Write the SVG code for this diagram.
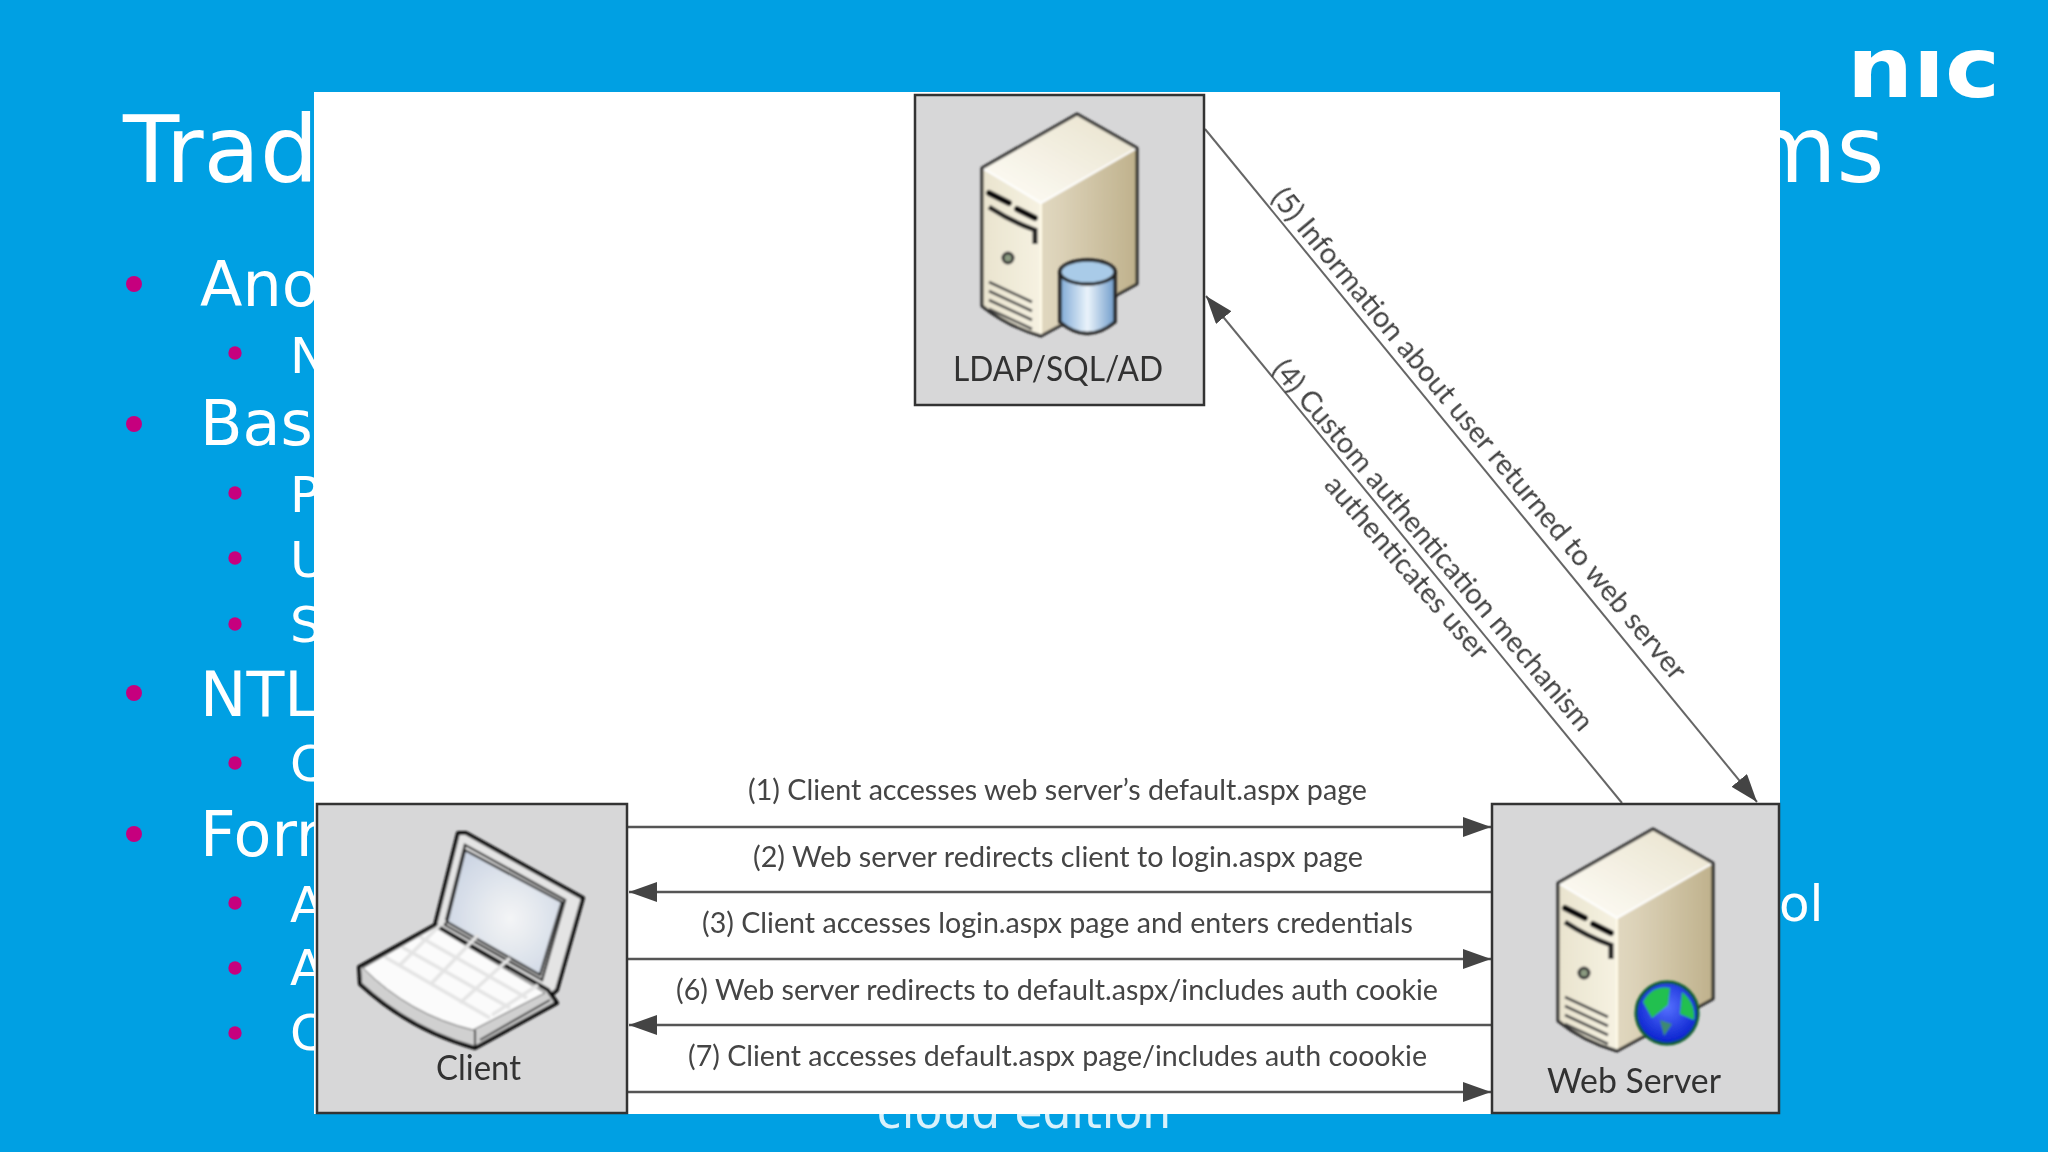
<svg xmlns="http://www.w3.org/2000/svg" xmlns:xlink="http://www.w3.org/1999/xlink" width="2048" height="1152" viewBox="0 0 2048 1152">
<style>
.bg{font-family:"DejaVu Sans",sans-serif;fill:#fff}
.t{font-size:92px}.l1{font-size:62px}.l2{font-size:50px}
.dot{fill:#C6007E}
.box{fill:#D7D7D8;stroke:#333;stroke-width:2.5}
.lb{font-family:Lato,"Liberation Sans",sans-serif;font-size:29px;fill:#444;filter:url(#soft)}
.nm{font-family:Lato,"Liberation Sans",sans-serif;font-size:35px;fill:#333;filter:url(#soft)}
.c{fill:none;stroke:#555;stroke-width:2.4}
.d{fill:none;stroke:#666;stroke-width:2}
.key{stroke:#e4e4e4;stroke-width:3.500;fill:none}
</style>
<defs>
<filter id="soft" x="-5%" y="-20%" width="110%" height="140%"><feGaussianBlur stdDeviation="0.5"/></filter>
<filter id="soft2" x="-10%" y="-10%" width="120%" height="120%"><feGaussianBlur stdDeviation="0.9"/></filter>
<linearGradient id="side" x1="0" y1="0" x2="1" y2="0"><stop offset="0" stop-color="#EFE9D8"/><stop offset="0.5" stop-color="#DCD2B8"/><stop offset="1" stop-color="#BFB18C"/></linearGradient>
<linearGradient id="front" x1="0" y1="0" x2="1" y2="0"><stop offset="0" stop-color="#E9E3CE"/><stop offset="1" stop-color="#F6F2E2"/></linearGradient>
<linearGradient id="topf" x1="0" y1="1" x2="1" y2="0"><stop offset="0" stop-color="#FFFEF8"/><stop offset="1" stop-color="#E8E1CC"/></linearGradient>
<linearGradient id="cyl" x1="0" y1="0" x2="1" y2="0"><stop offset="0" stop-color="#7FAAD6"/><stop offset="0.5" stop-color="#EAF3FB"/><stop offset="1" stop-color="#6F9CCB"/></linearGradient>
<radialGradient id="scr" cx="0.55" cy="0.55" r="0.6"><stop offset="0" stop-color="#F4F5F6"/><stop offset="1" stop-color="#CDD6E4"/></radialGradient>
<radialGradient id="earth" cx="0.5" cy="0.4" r="0.65"><stop offset="0" stop-color="#5570FF"/><stop offset="1" stop-color="#0018C8"/></radialGradient>
<clipPath id="nicclip"><rect x="1845" y="50" width="160" height="50"/></clipPath>
<marker id="a" markerUnits="userSpaceOnUse" markerWidth="30" markerHeight="22" refX="28" refY="10" orient="auto-start-reverse"><path d="M0 0L28 10L0 20Z" fill="#444"/></marker>
<g id="server">
<path d="M-95 54L0 0L60 34L60 170L-36 222Z" fill="url(#side)"/>
<path d="M-95 54V192Q-70 212 -36 222V89Z" fill="url(#front)"/>
<path d="M-95 54L0 0L60 34L-36 89Z" fill="url(#topf)"/>
<path d="M-36 89V222" stroke="#FFFBE8" stroke-width="2" fill="none"/>
<path d="M-95 54L-36 89L60 34" stroke="#fff" stroke-width="2" fill="none"/>
<path d="M-95 54L0 0L60 34V170L-36 222Q-70 212 -95 192Z" fill="none" stroke="#222" stroke-width="3" stroke-linejoin="round"/>
<path d="M-88 79L-68 89M-60 95L-42 104" stroke="#111" stroke-width="6" fill="none" stroke-linecap="round"/>
<path d="M-88 93Q-65 108 -42 116V130" stroke="#222" stroke-width="5" fill="none"/>
<circle cx="-69" cy="144" r="5" fill="#8A9A80" stroke="#333" stroke-width="3"/>
<path d="M-88 168L-45 188M-88 177L-45 197M-88 186L-45 206M-88 195L-45 215" stroke="#444" stroke-width="2.5" fill="none"/>
</g>
</defs>

<g id="background">
<rect width="2048" height="1152" fill="#00A0E3"/>
<text class="bg t" x="123" y="182">Trad</text>
<text class="bg t" x="1747" y="182">ms</text>
<text class="bg l1" x="200" y="306">Ano</text>
<text class="bg l2" x="290" y="373">N</text>
<text class="bg l1" x="200" y="445">Bas</text>
<text class="bg l2" x="290" y="512">P</text>
<text class="bg l2" x="290" y="577">U</text>
<text class="bg l2" x="290" y="642">S</text>
<text class="bg l1" x="200" y="716">NTL</text>
<text class="bg l2" x="290" y="781">C</text>
<text class="bg l1" x="200" y="856">Form</text>
<text class="bg l2" x="290" y="922">A</text>
<text class="bg l2" x="290" y="985">A</text>
<text class="bg l2" x="290" y="1050">C</text>
<text class="bg l2" x="1779" y="921">ol</text>
<text class="bg" x="1024" y="1128" font-size="45.500" text-anchor="middle" fill-opacity="0.85" filter="url(#soft)">cloud edition</text>
<circle class="dot" cx="134" cy="284" r="8"/><circle class="dot" cx="134" cy="424" r="8"/><circle class="dot" cx="134" cy="693" r="8"/><circle class="dot" cx="134" cy="834" r="8"/>
<circle class="dot" cx="235" cy="353" r="6.7"/><circle class="dot" cx="235" cy="493" r="6.7"/><circle class="dot" cx="235" cy="558" r="6.7"/><circle class="dot" cx="235" cy="624" r="6.7"/><circle class="dot" cx="235" cy="763" r="6.7"/><circle class="dot" cx="235" cy="903" r="6.7"/><circle class="dot" cx="235" cy="968" r="6.7"/><circle class="dot" cx="235" cy="1033" r="6.7"/>
<g id="logo" filter="url(#soft)">
<g clip-path="url(#nicclip)"><text x="1847" y="97" font-family="DejaVu Sans,sans-serif" font-weight="bold" font-size="84" fill="#fff" textLength="153" lengthAdjust="spacingAndGlyphs">nic</text></g>
</g>
<rect x="314" y="92" width="1466" height="1022" fill="#fff"/>
</g>

<g id="connectors">
<path class="c" marker-end="url(#a)" d="M627 827H1491"/>
<path class="c" marker-end="url(#a)" d="M1492 892H629"/>
<path class="c" marker-end="url(#a)" d="M627 959H1491"/>
<path class="c" marker-end="url(#a)" d="M1492 1025H629"/>
<path class="c" marker-end="url(#a)" d="M627 1092H1491"/>
<path class="d" marker-end="url(#a)" d="M1622 803L1206 296"/>
<path class="d" marker-end="url(#a)" d="M1205 129L1757 802"/>
<text class="lb" x="748" y="800" textLength="619" lengthAdjust="spacingAndGlyphs">(1) Client accesses web server’s default.aspx page</text>
<text class="lb" x="753" y="867" textLength="610" lengthAdjust="spacingAndGlyphs">(2) Web server redirects client to login.aspx page</text>
<text class="lb" x="702" y="933" textLength="711" lengthAdjust="spacingAndGlyphs">(3) Client accesses login.aspx page and enters credentials</text>
<text class="lb" x="676" y="1000" textLength="762" lengthAdjust="spacingAndGlyphs">(6) Web server redirects to default.aspx/includes auth cookie</text>
<text class="lb" x="688" y="1066" textLength="739" lengthAdjust="spacingAndGlyphs">(7) Client accesses default.aspx page/includes auth coookie</text>
<text class="lb" transform="translate(1270 198) rotate(50.2)" textLength="630" lengthAdjust="spacingAndGlyphs">(5) Information about user returned to web server</text>
<text class="lb" transform="translate(1271 370) rotate(49.6)" textLength="477" lengthAdjust="spacingAndGlyphs">(4) Custom authentication mechanism</text>
<text class="lb" transform="translate(1323 486) rotate(49)" textLength="233" lengthAdjust="spacingAndGlyphs">authenticates user</text>
</g>

<g id="node-ldap">
<rect class="box" x="915" y="95" width="289" height="310"/>
<use xlink:href="#server" href="#server" transform="translate(1077 114)" filter="url(#soft2)"/>
<g filter="url(#soft2)">
<path d="M1060 272V322Q1087 345 1115 322V272Z" fill="url(#cyl)" stroke="#222" stroke-width="3.500"/>
<ellipse cx="1087.500" cy="272" rx="27.500" ry="12" fill="#A9CBE8" stroke="#222" stroke-width="3.500"/>
</g>
<text class="nm" x="953" y="381" textLength="210" lengthAdjust="spacingAndGlyphs">LDAP/SQL/AD</text>
</g>

<g id="node-client">
<rect class="box" x="317" y="804" width="310" height="309"/>
<g filter="url(#soft2)">
<path d="M435 925L458 833L466 833L583 898L557 990L548 998Z" fill="#E4E4E4" stroke="#111" stroke-width="4" stroke-linejoin="round"/>
<path d="M465 845L565 900L542 980L445 925Z" fill="#F4F4F4" stroke="#222" stroke-width="2.500"/>
<path d="M465 850L562 902L540 975L447 922Z" fill="url(#scr)" stroke="#222" stroke-width="2.500"/>
<path d="M359 967L435 925L548 990L557 1003L475 1048Q410 1030 360 984Z" fill="#D0D0D0" stroke="#111" stroke-width="4" stroke-linejoin="round"/>
<path d="M363 968L435 927L545 993L473 1030Q410 1015 363 968Z" fill="#FBFBFB" stroke="#555" stroke-width="1"/>
<path class="key" d="M385 957L490 1018M402 947L510 1008M420 937L527 998M400 965L445 920M430 985L478 935M460 1003L510 958M492 1015L538 985"/>
<path d="M475 1030V1046M480 1040L550 1000" stroke="#222" stroke-width="2" fill="none"/>
</g>
<text class="nm" x="436" y="1080" textLength="85" lengthAdjust="spacingAndGlyphs">Client</text>
</g>

<g id="node-web">
<rect class="box" x="1492" y="804" width="287" height="309"/>
<use xlink:href="#server" href="#server" transform="translate(1653 829)" filter="url(#soft2)"/>
<g filter="url(#soft2)">
<circle cx="1667" cy="1013" r="31" fill="url(#earth)" stroke="#0C5A2A" stroke-width="3"/>
<path d="M1643 1002Q1652 985 1670 988L1668 1005L1652 1018Z" fill="#22C050"/>
<path d="M1682 992Q1696 1003 1694 1020L1680 1014Z" fill="#22C050"/>
<path d="M1660 1020L1672 1024L1664 1036Z" fill="#3C8A70"/>
</g>
<text class="nm" x="1547" y="1093" textLength="174" lengthAdjust="spacingAndGlyphs">Web Server</text>
</g>
</svg>
